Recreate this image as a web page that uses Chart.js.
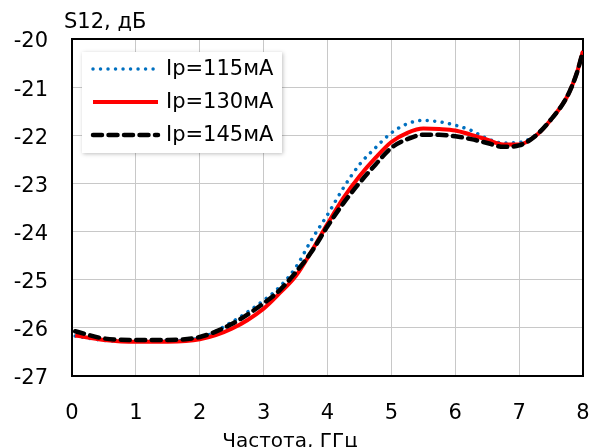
<!DOCTYPE html>
<html>
<head>
<meta charset="utf-8">
<script src="https://cdn.jsdelivr.net/npm/chart.js@4/dist/chart.umd.min.js"></script>
<style>
  body { margin: 0; background: #fff; }
  canvas { display: block; }
</style>
</head>
<body>
<canvas id="s12Chart" width="590" height="447"></canvas>
<script>
// частота, ГГц
const freq = [0.05, 0.5, 1, 1.5, 2, 2.5, 3, 3.25, 3.5, 3.75, 4, 4.25, 4.5, 4.75, 5, 5.25, 5.5, 5.75, 6, 6.25, 6.5, 6.75, 7, 7.25, 7.5, 7.75, 7.9, 8];

// S12, дБ для трёх токов
const s12_115 = [-26.17, -26.26, -26.28, -26.27, -26.21, -25.88, -25.43, -25.15, -24.75, -24.17, -23.65, -23.09, -22.61, -22.26, -21.95, -21.76, -21.69, -21.72, -21.79, -21.90, -22.07, -22.16, -22.15, -22.00, -21.66, -21.18, -20.70, -20.24];
const s12_130 = [-26.16, -26.25, -26.29, -26.29, -26.24, -26.02, -25.60, -25.28, -24.93, -24.41, -23.84, -23.30, -22.85, -22.47, -22.14, -21.95, -21.86, -21.87, -21.90, -21.99, -22.09, -22.19, -22.19, -22.02, -21.67, -21.20, -20.72, -20.25];
const s12_145 = [-26.07, -26.22, -26.25, -26.25, -26.19, -25.92, -25.49, -25.22, -24.85, -24.42, -23.89, -23.41, -22.99, -22.61, -22.26, -22.08, -21.99, -21.99, -22.02, -22.08, -22.16, -22.24, -22.21, -22.02, -21.67, -21.20, -20.72, -20.25];

const seriesLabels = ['Ip=115мА', 'Ip=130мА', 'Ip=145мА'];
const xTitle = 'Частота, ГГц';
const yTitle = 'S12, дБ';

const FONT = '"DejaVu Sans", sans-serif';

function points(values) {
    return freq.map((f, i) => ({ x: f, y: values[i] }));
}

// рамка, подписи осей и легенда внутри области графика
const decorations = {
    id: 'decorations',
    beforeDatasetsDraw(chart) {
        const { ctx, chartArea: a } = chart;
        ctx.save();
        ctx.strokeStyle = '#000';
        ctx.lineWidth = 2;
        ctx.strokeRect(a.left, a.top, a.right - a.left, a.bottom - a.top);
        ctx.restore();
    },
    afterDatasetsDraw(chart) {
        const { ctx } = chart;
        ctx.save();
        ctx.fillStyle = '#000';
        ctx.textBaseline = 'middle';
        ctx.font = '21px ' + FONT;
        ctx.textAlign = 'left';
        ctx.fillText(yTitle, 64, 23);
        ctx.font = '20px ' + FONT;
        ctx.textAlign = 'center';
        ctx.fillText(xTitle, 290, 442);

        // легенда
        ctx.font = '21px ' + FONT;
        ctx.shadowColor = 'rgba(0,0,0,0.25)';
        ctx.shadowBlur = 4;
        ctx.shadowOffsetX = 1;
        ctx.shadowOffsetY = 1;
        ctx.fillStyle = '#fff';
        ctx.fillRect(82, 52, 200, 101);
        ctx.shadowColor = 'transparent';

        chart.data.datasets.forEach((ds, i) => {
            const y = 69 + i * 33;
            ctx.beginPath();
            ctx.strokeStyle = ds.borderColor;
            ctx.lineWidth = ds.borderWidth;
            ctx.lineCap = ds.borderCapStyle || 'butt';
            ctx.setLineDash(ds.borderDash || []);
            ctx.moveTo(93, y);
            ctx.lineTo(158, y);
            ctx.stroke();
            ctx.setLineDash([]);
            ctx.fillStyle = '#000';
            ctx.textAlign = 'left';
            ctx.fillText(ds.label, 166, y + 1);
        });
        ctx.restore();
    }
};

new Chart(document.getElementById('s12Chart').getContext('2d'), {
    type: 'line',
    data: {
        datasets: [
            {
                label: seriesLabels[0],
                data: points(s12_115),
                borderColor: '#0070C0',
                borderWidth: 3.5,
                borderDash: [0.01, 7.5],
                borderCapStyle: 'round',
                order: 3
            },
            {
                label: seriesLabels[1],
                data: points(s12_130),
                borderColor: '#FF0000',
                borderWidth: 4,
                order: 2
            },
            {
                label: seriesLabels[2],
                data: points(s12_145),
                borderColor: '#000000',
                borderWidth: 4.5,
                borderDash: [9, 6.5],
                borderCapStyle: 'round',
                order: 1
            }
        ]
    },
    options: {
        responsive: false,
        animation: false,
        layout: { autoPadding: false, padding: { top: 39, right: 7, left: 0, bottom: 0 } },
        elements: {
            point: { radius: 0 },
            line: { cubicInterpolationMode: 'monotone', fill: false }
        },
        scales: {
            x: {
                type: 'linear',
                min: 0,
                max: 8,
                ticks: { stepSize: 1, color: '#000', padding: 25, font: { family: FONT, size: 21 } },
                grid: { color: '#C8C8C8', lineWidth: 1, drawTicks: false },
                border: { display: false },
                afterFit(scale) {
                    scale.height = 71;
                    scale.paddingLeft = 0;
                    scale.paddingRight = 0;
                }
            },
            y: {
                min: -27,
                max: -20,
                ticks: { stepSize: 1, color: '#000', padding: 24, labelOffset: 3, font: { family: FONT, size: 21 } },
                grid: { color: '#C8C8C8', lineWidth: 1, drawTicks: false },
                border: { display: false },
                afterFit(scale) {
                    scale.width = 72;
                    scale.paddingTop = 0;
                    scale.paddingBottom = 0;
                }
            }
        },
        plugins: {
            legend: { display: false },
            tooltip: { enabled: false }
        }
    },
    plugins: [decorations]
});
</script>
</body>
</html>
